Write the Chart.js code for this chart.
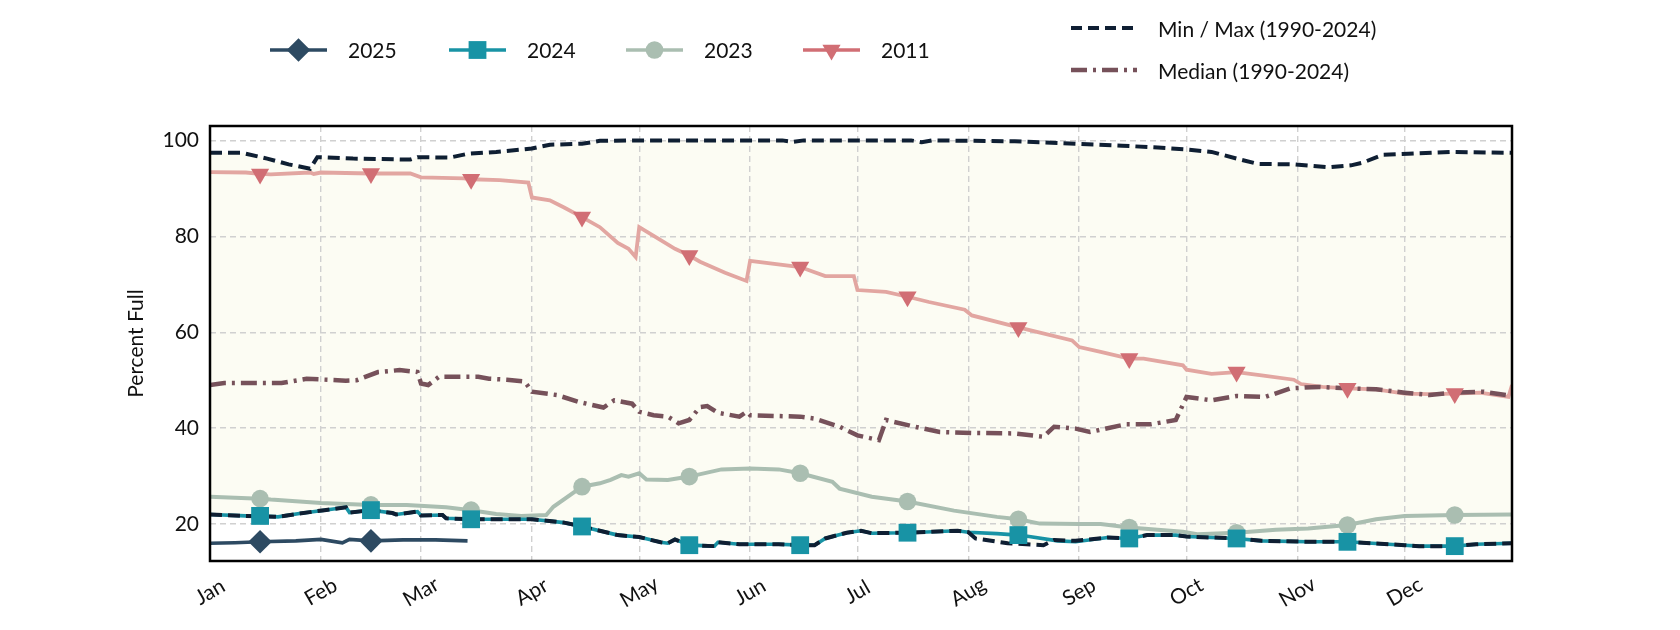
<!DOCTYPE html>
<html>
<head>
<meta charset="utf-8">
<title>Percent Full</title>
<script src="https://cdn.jsdelivr.net/npm/chart.js@4.4.1/dist/chart.umd.min.js"></script>
<style>
  html, body { margin: 0; padding: 0; background: #fff; }
  #wrap { width: 1680px; height: 630px; }
</style>
</head>
<body>
<div id="wrap"><canvas id="chart" width="1680" height="630"></canvas></div>
<script>
// ===== Data =====
// x = day of year (0 = Jan 1), y = percent full

const monthLabels = ['Jan', 'Feb', 'Mar', 'Apr', 'May', 'Jun', 'Jul', 'Aug', 'Sep', 'Oct', 'Nov', 'Dec'];
const monthStarts = [0, 31, 59, 90, 120, 151, 181, 212, 243, 273, 304, 334];
const markerDays = [14, 45, 73, 104, 134, 165, 195, 226, 257, 287, 318, 348]; // 15th of each month
const yTicks = [20, 40, 60, 80, 100];

const days2025 = [0, 7, 14, 24, 31, 37, 39, 45, 54, 63, 72];
const pct2025  = [16.0, 16.1, 16.3, 16.5, 16.8, 16.1, 16.8, 16.5, 16.7, 16.7, 16.5];

const days2024 = [0, 10, 14, 19, 25, 32, 37, 38, 39, 45, 51, 52, 58, 59, 65, 66, 73, 90, 99, 104, 114, 120, 126, 128, 130, 134, 141, 142, 148, 159, 165, 169, 172, 178, 182, 185, 195, 209, 212, 220, 226, 229, 237, 242, 251, 257, 262, 270, 273, 287, 294, 307, 318, 334, 338, 348, 354, 364];
const pct2024  = [22.0, 21.7, 21.7, 21.5, 22.2, 22.9, 23.4, 23.5, 22.4, 22.9, 22.3, 22.0, 22.6, 21.8, 21.9, 21.2, 21.0, 21.0, 20.3, 19.5, 17.7, 17.3, 16.2, 16.0, 16.8, 15.6, 15.4, 16.2, 15.8, 15.8, 15.6, 15.6, 17.0, 18.2, 18.6, 18.1, 18.2, 18.6, 18.3, 18.0, 17.7, 17.4, 16.5, 16.3, 17.2, 17.0, 17.7, 17.7, 17.4, 17.0, 16.5, 16.3, 16.3, 15.6, 15.4, 15.4, 15.8, 16.0];

const days2023 = [0, 14, 17, 31, 45, 55, 66, 73, 80, 87, 94, 96, 104, 109, 112, 115, 117, 120, 122, 128, 134, 143, 151, 159, 165, 174, 176, 185, 195, 208, 220, 226, 232, 243, 249, 257, 272, 276, 287, 298, 307, 318, 326, 334, 348, 364];
const pct2023  = [25.7, 25.3, 25.1, 24.4, 24.0, 24.0, 23.5, 22.9, 22.1, 21.7, 21.9, 23.6, 27.8, 28.5, 29.2, 30.2, 29.9, 30.6, 29.3, 29.2, 29.9, 31.4, 31.6, 31.4, 30.6, 28.8, 27.4, 25.7, 24.7, 22.8, 21.5, 21.0, 20.1, 20.0, 20.0, 19.3, 18.4, 17.9, 18.2, 18.8, 19.1, 19.8, 21.0, 21.7, 21.9, 22.0];

const days2011 = [0, 10, 14, 17, 28, 29, 31, 45, 56, 59, 71, 73, 81, 89, 90, 95, 99, 104, 109, 114, 117, 119, 120, 126, 130, 134, 137, 144, 150, 151, 165, 172, 180, 181, 189, 195, 201, 211, 213, 226, 241, 243, 249, 257, 261, 272, 273, 280, 287, 294, 303, 305, 311, 318, 326, 334, 341, 348, 355, 363, 364];
const pct2011  = [93.4, 93.3, 93.0, 92.9, 93.3, 93.0, 93.3, 93.1, 93.1, 92.3, 92.1, 91.9, 91.7, 91.2, 88.1, 87.5, 86.0, 84.0, 81.9, 78.6, 77.4, 75.7, 81.9, 79.2, 77.4, 76.0, 74.7, 72.4, 70.7, 74.9, 73.6, 71.7, 71.7, 68.8, 68.4, 67.4, 66.3, 64.7, 63.5, 61.0, 58.3, 56.9, 55.9, 54.5, 54.5, 53.1, 52.2, 51.3, 51.7, 51.0, 50.1, 49.2, 48.6, 48.3, 48.1, 47.2, 47.1, 47.2, 47.4, 46.5, 49.0];

const daysMax = [0, 9, 16, 22, 28, 30, 40, 56, 58, 67, 72, 80, 90, 95, 104, 109, 120, 160, 163, 166, 196, 199, 202, 225, 242, 255, 265, 273, 280, 287, 293, 303, 313, 319, 322, 328, 335, 347, 364];
const pctMax  = [97.4, 97.4, 96.2, 95.0, 94.1, 96.5, 96.2, 96.0, 96.5, 96.4, 97.2, 97.6, 98.3, 99.1, 99.3, 99.9, 100, 100, 99.7, 100, 100, 99.6, 100, 99.8, 99.3, 98.9, 98.5, 98.1, 97.6, 96.2, 95.1, 95.0, 94.4, 94.8, 95.3, 97.0, 97.2, 97.6, 97.4];

const daysMin = [0, 10, 19, 25, 32, 38, 39, 45, 51, 52, 58, 59, 65, 66, 73, 90, 99, 104, 114, 120, 126, 128, 130, 134, 141, 142, 148, 159, 165, 169, 172, 178, 182, 185, 195, 209, 212, 214, 223, 233, 236, 242, 251, 257, 262, 270, 273, 287, 294, 307, 318, 334, 338, 348, 354, 364];
const pctMin  = [22.0, 21.7, 21.5, 22.2, 22.9, 23.5, 22.4, 22.9, 22.3, 22.0, 22.6, 21.8, 21.9, 21.2, 21.0, 21.0, 20.3, 19.5, 17.7, 17.3, 16.2, 16.0, 16.8, 15.6, 15.4, 16.2, 15.8, 15.8, 15.6, 15.6, 17.0, 18.2, 18.6, 18.1, 18.2, 18.6, 18.3, 17.0, 16.0, 15.6, 16.7, 16.5, 17.2, 17.0, 17.7, 17.7, 17.4, 17.0, 16.5, 16.3, 16.3, 15.6, 15.4, 15.4, 15.8, 16.0];

const daysMedian = [0, 4, 20, 27, 38, 41, 47, 53, 58, 59, 61, 64, 75, 78, 83, 88, 90, 97, 103, 110, 113, 118, 120, 124, 128, 131, 134, 137, 139, 142, 148, 150, 151, 165, 169, 176, 181, 187, 189, 197, 204, 213, 225, 233, 236, 242, 246, 256, 263, 270, 273, 280, 287, 295, 302, 310, 318, 326, 334, 341, 347, 356, 364];
const pctMedian  = [49.0, 49.4, 49.4, 50.3, 49.9, 50.0, 51.7, 52.1, 51.7, 49.3, 49.0, 50.7, 50.7, 50.3, 50.1, 49.7, 47.6, 46.9, 45.5, 44.3, 45.8, 45.1, 43.4, 42.7, 42.4, 41.0, 41.7, 44.4, 44.6, 43.2, 42.4, 43.4, 42.7, 42.4, 42.0, 40.3, 38.5, 37.5, 41.7, 40.3, 39.2, 39.0, 38.9, 38.2, 40.3, 39.9, 39.2, 40.8, 40.8, 41.7, 46.5, 45.8, 46.7, 46.5, 48.3, 48.6, 48.3, 48.1, 47.4, 46.9, 47.4, 47.6, 46.7];

// ===== Cores =====
const colors = {
  y2025: '#2d4a62',
  y2024: '#1893a5',
  y2023: '#aabeb1',
  y2011line: '#e2a6a1',
  y2011mark: '#d16e74',
  minmax: '#0f1f33',
  median: '#76515a',
  band: '#fcfcf3',
  grid: '#d0d0d0'
};
const FONT = 'Lato, "Open Sans", sans-serif';

// monta pares {x, y} a partir dos arrays
const toXY = (days, vals) => days.map((d, i) => ({ x: d, y: vals[i] }));
const onlyMarkers = (days, vals) => toXY(days, vals).filter(p => markerDays.includes(p.x));

function lineSet(label, days, vals, color, width, dash, order) {
  return {
    label, data: toXY(days, vals), borderColor: color, borderWidth: width,
    borderDash: dash || [], pointRadius: 0, tension: 0, fill: false, order
  };
}
function markerSet(label, days, vals, color, style, radius, rotation, order) {
  return {
    label, data: onlyMarkers(days, vals), showLine: false, pointStyle: style,
    pointRadius: radius, pointRotation: rotation || 0, pointBackgroundColor: color,
    pointBorderWidth: 0, order
  };
}

const maxSet = lineSet('Max', daysMax, pctMax, colors.minmax, 4, [12, 6], 5);
maxSet.fill = { target: 1 };
maxSet.backgroundColor = colors.band;

const datasets = [
  maxSet,
  lineSet('Min', daysMin, pctMin, colors.minmax, 4, [12, 6], 5),
  lineSet('2011', days2011, pct2011, colors.y2011line, 3.8, null, 9),
  lineSet('Median', daysMedian, pctMedian, colors.median, 4.5, [16, 6, 3, 6], 8),
  lineSet('2023', days2023, pct2023, colors.y2023, 4, null, 7),
  lineSet('2024', days2024, pct2024, colors.y2024, 3.6, null, 6),
  lineSet('2025', days2025, pct2025, colors.y2025, 3.6, null, 4),
  markerSet('2011 m', days2011, pct2011, colors.y2011mark, 'triangle', 10.5, 180, 3),
  markerSet('2023 m', days2023, pct2023, colors.y2023, 'circle', 8.8, 0, 2),
  markerSet('2024 m', days2024, pct2024, colors.y2024, 'rect', 12.6, 0, 1),
  markerSet('2025 m', days2025, pct2025, colors.y2025, 'rectRot', 11.8, 0, 0)
];

// ===== Legenda / rótulos / moldura =====
function drawMarker(ctx, style, x, y, color) {
  ctx.fillStyle = color;
  ctx.beginPath();
  if (style === 'diamond') {
    ctx.moveTo(x, y - 11.8); ctx.lineTo(x + 11.8, y); ctx.lineTo(x, y + 11.8); ctx.lineTo(x - 11.8, y);
  } else if (style === 'square') {
    ctx.rect(x - 8.9, y - 8.9, 17.8, 17.8);
  } else if (style === 'circle') {
    ctx.arc(x, y, 8.8, 0, Math.PI * 2);
  } else if (style === 'tri') {
    const r = 10.5;
    ctx.moveTo(x - r * 0.866, y - r / 2); ctx.lineTo(x + r * 0.866, y - r / 2); ctx.lineTo(x, y + r);
  }
  ctx.closePath();
  ctx.fill();
}

const legendItems = [
  { text: '2025', x: 270, color: colors.y2025, marker: 'diamond' },
  { text: '2024', x: 449, color: colors.y2024, marker: 'square' },
  { text: '2023', x: 626, color: colors.y2023, marker: 'circle' },
  { text: '2011', x: 803, color: colors.y2011mark, marker: 'tri' }
];
const legendLines = [
  { text: 'Min / Max (1990-2024)', y: 28, color: colors.minmax, dash: [11, 6], width: 4 },
  { text: 'Median (1990-2024)', y: 70, color: colors.median, dash: [16, 6, 3, 6], width: 4.5 }
];

const decorPlugin = {
  id: 'decor',
  afterDraw(chart) {
    const { ctx, chartArea: a } = chart;
    const xs = chart.scales.x;
    ctx.save();

    // moldura
    ctx.strokeStyle = '#000';
    ctx.lineWidth = 2.5;
    ctx.strokeRect(a.left, a.top, a.right - a.left, a.bottom - a.top);

    // rótulos do eixo x (rotacionados 30°, centralizados)
    ctx.fillStyle = '#111';
    ctx.font = '21px ' + FONT;
    ctx.textAlign = 'center';
    ctx.textBaseline = 'middle';
    monthStarts.forEach((d, i) => {
      ctx.save();
      ctx.translate(xs.getPixelForValue(d), a.bottom + 31);
      ctx.rotate(-Math.PI / 6);
      ctx.fillText(monthLabels[i], 0, 0);
      ctx.restore();
    });

    // legenda dos anos
    ctx.textAlign = 'left';
    legendItems.forEach(it => {
      ctx.strokeStyle = it.color;
      ctx.lineWidth = 3.6;
      ctx.setLineDash([]);
      ctx.beginPath(); ctx.moveTo(it.x, 50); ctx.lineTo(it.x + 57, 50); ctx.stroke();
      drawMarker(ctx, it.marker, it.x + 28.5, 50, it.color);
      ctx.fillStyle = '#111';
      ctx.fillText(it.text, it.x + 78, 51);
    });

    // legenda min/max e mediana
    legendLines.forEach(it => {
      ctx.strokeStyle = it.color;
      ctx.lineWidth = it.width;
      ctx.setLineDash(it.dash);
      ctx.beginPath(); ctx.moveTo(1071, it.y); ctx.lineTo(1137, it.y); ctx.stroke();
      ctx.setLineDash([]);
      ctx.fillStyle = '#111';
      ctx.fillText(it.text, 1158, it.y + 2);
    });
    ctx.restore();
  }
};

// ===== Gráfico =====
const ctx = document.getElementById('chart').getContext('2d');
new Chart(ctx, {
  type: 'line',
  data: { datasets },
  plugins: [decorPlugin],
  options: {
    responsive: false,
    animation: false,
    events: [],
    layout: { padding: { left: 0, top: 126, right: 168, bottom: 0 } },
    plugins: {
      legend: { display: false },
      tooltip: { enabled: false },
      filler: { drawTime: 'beforeDraw' }
    },
    scales: {
      x: {
        type: 'linear', min: 0, max: 364,
        afterBuildTicks: s => { s.ticks = monthStarts.map(v => ({ value: v })); },
        afterFit: s => { s.height = 69; },
        ticks: { display: false },
        grid: { color: colors.grid, lineWidth: 1.4, drawTicks: false },
        border: { display: false, dash: [6, 4] }
      },
      y: {
        min: 12.3, max: 103,
        afterBuildTicks: s => { s.ticks = yTicks.map(v => ({ value: v })); },
        afterFit: s => { s.width = 210; },
        ticks: { color: '#111', font: { family: FONT, size: 21 }, padding: 11 },
        grid: { color: colors.grid, lineWidth: 1.4, drawTicks: false },
        border: { display: false, dash: [6, 4] },
        title: {
          display: true, text: 'Percent Full', color: '#111',
          font: { family: FONT, size: 21 }, padding: { top: 124, bottom: 0 }
        }
      }
    }
  }
});
</script>
</body>
</html>
